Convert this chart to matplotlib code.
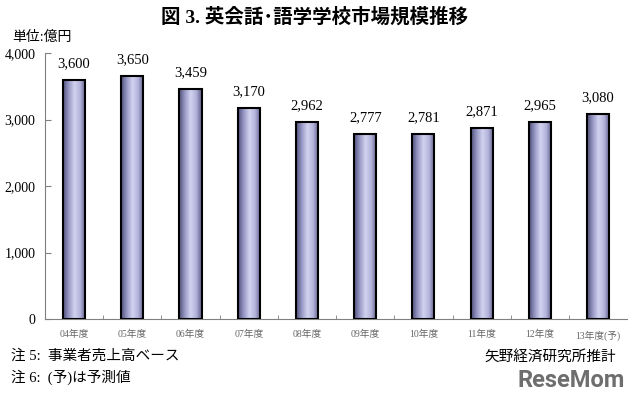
import numpy as np
import matplotlib.pyplot as plt
from matplotlib.colors import LinearSegmentedColormap

years = ['04年度', '05年度', '06年度', '07年度', '08年度',
         '09年度', '10年度', '11年度', '12年度', '13年度(予)']
values = [3600, 3650, 3459, 3170, 2962, 2777, 2781, 2871, 2965, 3080]
yticks = [0, 1000, 2000, 3000, 4000]

serif = ['Liberation Serif', 'Noto Sans CJK JP']
cmap = LinearSegmentedColormap.from_list(
    'bar', ['#50507c', '#9898c6', '#d2d2f0', '#b4b4dc', '#5c5c88'])

fig = plt.figure(figsize=(6.4, 3.96), dpi=100)
ax = fig.add_axes([0.0703, 0.1944, 0.9097, 0.6717])

x = np.arange(len(years))
bars = ax.bar(x, values, width=0.38, facecolor='none', edgecolor='black',
              lw=1.5, zorder=3)
grad = np.linspace(0, 1, 100).reshape(1, -1)
for b in bars:
    im = ax.imshow(grad, cmap=cmap, aspect='auto', zorder=2,
                   extent=[b.get_x(), b.get_x() + b.get_width(), 0, b.get_height()])
    im.set_clip_path(b)

ax.bar_label(bars, labels=[f'{v:,}' for v in values], padding=7,
             fontsize=10.5, family=serif)

ax.set_xlim(-0.5, len(years) - 0.5)
ax.set_ylim(0, 4000)
ax.set_yticks(yticks)
ax.set_yticklabels([f'{v:,}' for v in yticks], family=serif, fontsize=10)
ax.set_xticks(x)
ax.set_xticklabels(years, family=serif, fontsize=7, color='#666666')
ax.set_xticks(x[:-1] + 0.5, minor=True)
ax.tick_params(axis='x', which='major', length=0, pad=8)
ax.tick_params(axis='x', which='minor', direction='in', length=3, color='#808080')
ax.tick_params(axis='y', direction='in', length=4, color='#808080', pad=7)

for s in ['top', 'right']:
    ax.spines[s].set_visible(False)
for s in ['left', 'bottom']:
    ax.spines[s].set_color('#808080')

fig.text(0.492, 0.957, '図 3. 英会話･語学学校市場規模推移', ha='center', va='center',
         fontsize=14, fontweight='bold', family=serif)
fig.text(0.019, 0.906, '単位:億円', ha='left', va='center', fontsize=10, family=serif)
fig.text(0.017, 0.101, '注 5:  事業者売上高ベース', ha='left', va='center',
         fontsize=10.5, family=serif)
fig.text(0.017, 0.048, '注 6:  (予)は予測値', ha='left', va='center',
         fontsize=10.5, family=serif)
fig.text(0.962, 0.098, '矢野経済研究所推計', ha='right', va='center',
         fontsize=10.5, family=serif)
fig.text(0.977, 0.038, 'ReseMom', ha='right', va='center', fontsize=17,
         fontweight='bold', color='#6e6e6e', family='Roboto', fontstretch='condensed')

fig.savefig('out.png', dpi=100)
